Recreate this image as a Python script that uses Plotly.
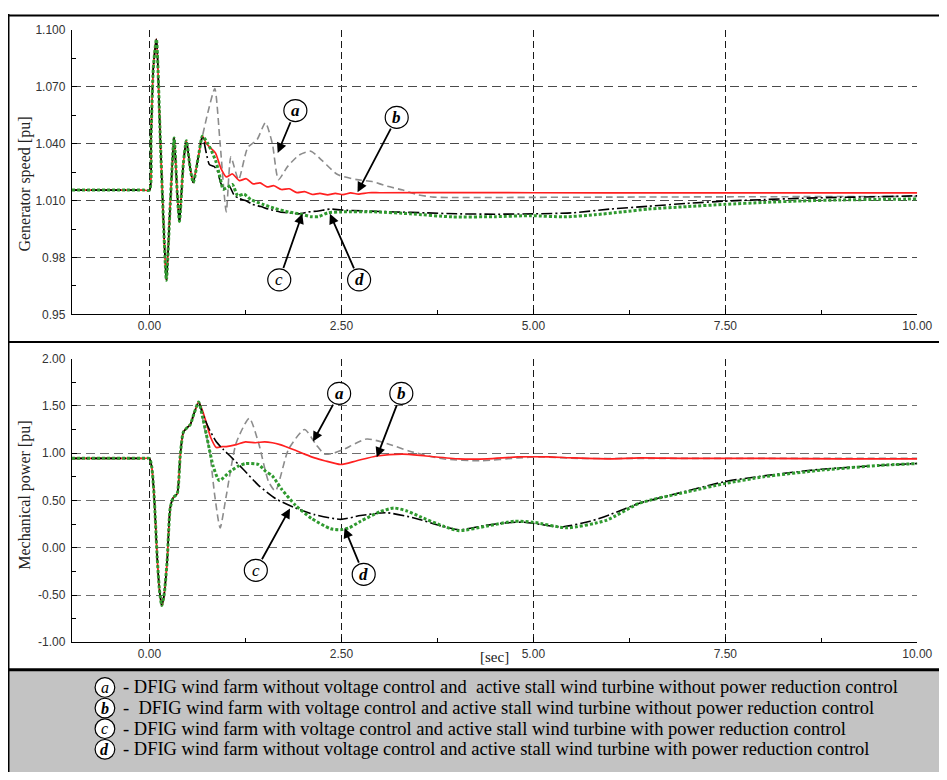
import plotly.graph_objects as go

# ---------------- data ----------------
# Generator speed [pu] — common transient (all four cases coincide)
speed_t_common = [-1.01, -0.3, -0.08, 0.0, 0.02, 0.05, 0.09, 0.14, 0.19, 0.22, 0.27, 0.32, 0.36, 0.39,
                  0.44, 0.48, 0.53, 0.57, 0.64, 0.69]
speed_common = [1.0155, 1.0155, 1.0155, 1.0155, 1.043, 1.080, 1.095, 1.043, 0.991, 0.968, 1.008, 1.043,
                1.015, 0.999, 1.029, 1.0415, 1.027, 1.0195, 1.034, 1.044]

speed_t_a = [0.77, 0.85, 0.92, 1.00, 1.06, 1.16, 1.28, 1.40, 1.51, 1.60, 1.68, 1.80, 1.95, 2.10,
             2.25, 2.45, 2.70, 2.90, 3.10, 3.30, 3.50, 3.70, 4.00, 6.00, 8.00, 10.0]
speed_a = [1.058, 1.069, 1.040, 1.004, 1.033, 1.021, 1.038, 1.042, 1.051, 1.040, 1.021, 1.028, 1.034, 1.036,
           1.031, 1.0237, 1.021, 1.020, 1.0175, 1.0155, 1.013, 1.0118, 1.0116, 1.0118, 1.012, 1.0122]

speed_t_b = [0.74, 0.80, 0.86, 0.93, 1.00, 1.08, 1.17, 1.26, 1.35, 1.44, 1.53, 1.62, 1.72, 1.82, 1.92,
             2.02, 2.12, 2.22, 2.32, 2.42, 2.52, 2.62, 2.72, 2.85, 3.00, 4.00, 6.00, 8.00, 10.0]
speed_b = [1.040, 1.0375, 1.035, 1.027, 1.0225, 1.0240, 1.0205, 1.0215, 1.0188, 1.0193, 1.0172, 1.0178,
           1.0158, 1.0162, 1.0142, 1.0147, 1.0132, 1.0138, 1.0130, 1.0138, 1.0131, 1.0140, 1.0134, 1.0141,
           1.0141, 1.0142, 1.014, 1.014, 1.014]

speed_t_c = [0.74, 0.78, 0.84, 0.88, 0.93, 0.98, 1.04, 1.10, 1.17, 1.25, 1.34, 1.45, 1.55, 1.70, 1.81,
             1.95, 2.07, 2.20, 2.35, 2.50, 2.80, 3.20, 3.60, 4.00, 4.50, 5.00, 5.50, 6.00, 6.50, 7.00,
             7.50, 8.00, 8.50, 9.00, 9.50, 10.0]
speed_c = [1.035, 1.029, 1.028, 1.026, 1.019, 1.016, 1.0175, 1.013, 1.011, 1.010, 1.008, 1.0068, 1.0055,
           1.004, 1.0035, 1.003, 1.004, 1.0045, 1.0055, 1.005, 1.0045, 1.004, 1.0035, 1.003, 1.0028, 1.003,
           1.0035, 1.0055, 1.007, 1.0085, 1.0097, 1.0105, 1.0112, 1.0117, 1.012, 1.0125]

speed_t_d = [0.76, 0.82, 0.87, 0.92, 0.96, 1.02, 1.08, 1.15, 1.23, 1.32, 1.47, 1.62, 1.81, 1.95, 2.11,
             2.20, 2.32, 2.50, 2.96, 3.40, 3.94, 4.50, 4.97, 5.40, 5.80, 6.16, 6.50, 7.00, 7.50, 8.00,
             8.50, 9.00, 9.50, 10.0]
speed_d = [1.040, 1.035, 1.030, 1.022, 1.016, 1.017, 1.0185, 1.0125, 1.0134, 1.0105, 1.0081, 1.006, 1.004,
           1.003, 1.0015, 1.0015, 1.0035, 1.004, 1.004, 1.003, 1.0014, 1.0015, 1.002, 1.0014, 1.0025,
           1.004, 1.0055, 1.0068, 1.008, 1.009, 1.0098, 1.0103, 1.0106, 1.0108]

# Mechanical power [pu] — common transient
power_t_common = [-1.01, -0.3, -0.06, 0.0, 0.03, 0.06, 0.10, 0.13, 0.16, 0.19, 0.23, 0.27, 0.31, 0.36,
                  0.40, 0.44, 0.49, 0.53, 0.58, 0.64]
power_common = [0.945, 0.945, 0.945, 0.945, 0.85, 0.55, -0.10, -0.45, -0.61, -0.50, -0.14, 0.42, 0.53,
                0.57, 0.97, 1.22, 1.27, 1.30, 1.42, 1.54]

power_t_a = [0.72, 0.78, 0.85, 0.92, 1.00, 1.13, 1.30, 1.42, 1.55, 1.64, 1.81, 2.02, 2.17, 2.28, 2.40,
             2.53, 2.83, 3.10, 3.39, 3.82, 4.33, 4.80, 5.10, 5.60, 6.50, 8.00, 10.0]
power_a = [1.25, 1.04, 0.55, 0.21, 0.55, 1.11, 1.37, 1.11, 0.70, 0.60, 1.04, 1.25, 1.09, 0.99, 1.00,
           1.04, 1.15, 1.10, 1.02, 0.94, 0.92, 0.95, 0.96, 0.945, 0.945, 0.945, 0.945]

power_t_b = [0.69, 0.74, 0.80, 0.87, 0.95, 1.00, 1.13, 1.25, 1.38, 1.50, 1.60, 1.70, 1.77, 1.90, 2.02,
             2.15, 2.28, 2.49, 2.70, 2.96, 3.30, 3.60, 4.03, 4.40, 4.80, 5.20, 5.52, 6.00, 6.38, 7.00,
             8.00, 9.00, 10.0]
power_b = [1.45, 1.32, 1.16, 1.06, 1.07, 1.07, 1.09, 1.12, 1.11, 1.12, 1.11, 1.09, 1.07, 1.03, 0.99,
           0.95, 0.92, 0.88, 0.92, 0.97, 0.99, 0.97, 0.94, 0.94, 0.96, 0.96, 0.95, 0.94, 0.95, 0.945,
           0.945, 0.94, 0.94]

power_t_c = [0.70, 0.78, 0.87, 0.96, 1.05, 1.22, 1.42, 1.64, 1.90, 2.15, 2.49, 2.75, 3.09, 3.47, 3.80,
             4.03, 4.33, 4.60, 4.88, 5.35, 5.74, 6.00, 6.38, 7.00, 7.50, 8.00, 8.75, 9.50, 10.0]
power_c = [1.40, 1.25, 1.12, 1.04, 0.97, 0.83, 0.66, 0.52, 0.42, 0.35, 0.30, 0.34, 0.37, 0.31, 0.23,
           0.19, 0.23, 0.26, 0.27, 0.22, 0.28, 0.35, 0.47, 0.60, 0.70, 0.76, 0.83, 0.87, 0.89]

power_t_d = [0.70, 0.74, 0.78, 0.83, 0.91, 1.04, 1.15, 1.25, 1.42, 1.51, 1.60, 1.72, 1.90, 2.11, 2.36,
             2.49, 2.60, 2.75, 3.00, 3.18, 3.35, 3.52, 3.82, 4.03, 4.40, 4.75, 5.00, 5.44, 5.95, 6.38,
             7.00, 7.50, 8.00, 8.75, 9.50, 10.0]
power_d = [1.35, 1.20, 1.04, 0.86, 0.71, 0.80, 0.86, 0.89, 0.88, 0.81, 0.76, 0.62, 0.45, 0.31, 0.20,
           0.19, 0.21, 0.28, 0.38, 0.42, 0.39, 0.33, 0.23, 0.18, 0.23, 0.28, 0.27, 0.21, 0.29, 0.47,
           0.59, 0.68, 0.75, 0.82, 0.87, 0.89]

x_tickvals = [0.0, 2.5, 5.0, 7.5, 10.0]
x_ticktext = ["0.00", "2.50", "5.00", "7.50", "10.00"]
speed_tickvals = [0.95, 0.98, 1.01, 1.04, 1.07, 1.10]
speed_ticktext = ["0.95", "0.98", "1.010", "1.040", "1.070", "1.100"]
power_tickvals = [-1.0, -0.5, 0.0, 0.5, 1.0, 1.5, 2.0]
power_ticktext = ["-1.00", "-0.50", "0.00", "0.50", "1.00", "1.50", "2.00"]

legend_letters = ["a", "b", "c", "d"]
legend_texts = [
    "- DFIG wind farm without voltage control and \u00a0active stall wind turbine without power reduction control",
    "- \u00a0DFIG wind farm with voltage control and active stall wind turbine without power reduction control",
    "- DFIG wind farm with voltage control and active stall wind turbine with power reduction control",
    "- DFIG wind farm without voltage control and active stall wind turbine with power reduction control",
]

# ---------------- geometry helpers (page px -> paper) ----------------
W, H = 939, 764
OX, OY = 8, 8


def px(X):
    return (X - OX) / W


def py(Y):
    return 1 - (Y - OY) / H


SERIF = "Liberation Serif, Times New Roman, serif"
SANS = "Liberation Sans, Arial, sans-serif"

styles = {
    "a": dict(color="#8c8c8c", width=1.6, dash="7px,4px"),
    "b": dict(color="#ff2020", width=1.7, dash="solid"),
    "c": dict(color="#000000", width=1.6, dash="11px,3px,2px,3px"),
    "d": dict(color="#2f9a2f", width=3.0, dash="3px,2px"),
}

fig = go.Figure()

speed_series = {"a": (speed_t_a, speed_a), "b": (speed_t_b, speed_b),
                "c": (speed_t_c, speed_c), "d": (speed_t_d, speed_d)}
power_series = {"a": (power_t_a, power_a), "b": (power_t_b, power_b),
                "c": (power_t_c, power_c), "d": (power_t_d, power_d)}

for key in ["a", "b", "c", "d"]:
    tt, vv = speed_series[key]
    fig.add_trace(go.Scatter(x=speed_t_common + tt, y=speed_common + vv, mode="lines",
                             line=dict(shape="spline", smoothing=0.6, **styles[key]),
                             xaxis="x", yaxis="y", showlegend=False, hoverinfo="skip"))
for key in ["a", "b", "c", "d"]:
    tt, vv = power_series[key]
    fig.add_trace(go.Scatter(x=power_t_common + tt, y=power_common + vv, mode="lines",
                             line=dict(shape="spline", smoothing=0.6, **styles[key]),
                             xaxis="x2", yaxis="y2", showlegend=False, hoverinfo="skip"))

tickfont = dict(family=SANS, size=12, color="#333333")
xcommon = dict(range=[-1.01, 10.0], domain=[px(73), px(932)], tickvals=x_tickvals, ticktext=x_ticktext,
               ticks="inside", ticklen=5, tickcolor="black", tickfont=tickfont, ticklabeloverflow="allow",
               showgrid=True, gridcolor="#1a1a1a", gridwidth=1, griddash="7px,4px",
               showline=True, linecolor="black", linewidth=1.3, mirror=False, zeroline=False,
               minor=dict(ticks="inside", ticklen=4, tickcolor="black", dtick=1.25, tick0=0, showgrid=False))
ycommon = dict(ticks="inside", ticklen=5, tickcolor="black", tickfont=tickfont, ticklabelstandoff=3,
               showgrid=True, gridwidth=1.3, griddash="9px,5px",
               showline=True, linecolor="black", linewidth=1.3, mirror=False, zeroline=False)

fig.update_layout(
    width=W, height=H, autosize=False, margin=dict(l=0, r=0, t=0, b=0),
    paper_bgcolor="white", plot_bgcolor="white",
    xaxis=dict(anchor="y", **xcommon),
    yaxis=dict(anchor="x", range=[0.95, 1.10], domain=[py(313), py(23)], tickvals=speed_tickvals,
               ticktext=speed_ticktext, gridcolor="#4a4a4a",
               minor=dict(ticks="inside", ticklen=4, tickcolor="black", dtick=0.015, tick0=0.95, showgrid=False),
               **ycommon),
    xaxis2=dict(anchor="y2", **xcommon),
    yaxis2=dict(anchor="x2", range=[-1.0, 2.0], domain=[py(647), py(358)], tickvals=power_tickvals,
                ticktext=power_ticktext, gridcolor="#6e6e6e",
                minor=dict(ticks="inside", ticklen=4, tickcolor="black", dtick=0.25, tick0=-1.0, showgrid=False),
                **ycommon),
)

shapes = []
# legend box background
shapes.append(dict(type="rect", xref="paper", yref="paper", x0=px(9), x1=1.01, y0=py(790), y1=py(676),
                   fillcolor="#c3c3c3", line=dict(width=0), layer="below"))
# outer frame and separators
shapes.append(dict(type="line", xref="paper", yref="paper", x0=px(8.5), x1=px(8.5), y0=py(790), y1=py(7),
                   line=dict(color="black", width=2)))
shapes.append(dict(type="line", xref="paper", yref="paper", x0=px(8), x1=1.01, y0=py(8.5), y1=py(8.5),
                   line=dict(color="black", width=2)))
shapes.append(dict(type="line", xref="paper", yref="paper", x0=px(8), x1=1.01, y0=py(341), y1=py(341),
                   line=dict(color="black", width=2)))
shapes.append(dict(type="line", xref="paper", yref="paper", x0=px(8), x1=1.01, y0=py(675), y1=py(675),
                   line=dict(color="black", width=3)))

annotations = []
# y axis titles and x label
annotations.append(dict(xref="paper", yref="paper", x=px(25), y=py(180), text="Generator speed [pu]",
                        xanchor="center", yanchor="middle",
                        textangle=-90, showarrow=False, font=dict(family=SERIF, size=16, color="#222222")))
annotations.append(dict(xref="paper", yref="paper", x=px(25), y=py(497), text="Mechanical power [pu]",
                        xanchor="center", yanchor="middle",
                        textangle=-90, showarrow=False, font=dict(family=SERIF, size=16, color="#222222")))
annotations.append(dict(xref="paper", yref="paper", x=px(502), y=py(662), text="[sec]",
                        xanchor="center", yanchor="middle",
                        showarrow=False, font=dict(family=SERIF, size=15, color="#222222")))

# callout circles with arrows: (letter, xref, yref, circle t, circle v, tip t, tip v)
callouts = [
    ("a", "x", "y", 1.90, 1.0574, 1.67, 1.0351),
    ("b", "x", "y", 3.22, 1.0538, 2.71, 1.0144),
    ("c", "x", "y", 1.69, 0.9682, 1.99, 1.0030),
    ("d", "x", "y", 2.73, 0.9682, 2.35, 1.0030),
    ("a", "x2", "y2", 2.47, 1.632, 2.13, 1.123),
    ("b", "x2", "y2", 3.28, 1.632, 2.96, 0.956),
    ("c", "x2", "y2", 1.385, -0.239, 1.83, 0.416),
    ("d", "x2", "y2", 2.79, -0.281, 2.54, 0.208),
]


def letter_html(letter):
    if letter == "c":
        return "<i>c</i>"
    return "<b><i>%s</i></b>" % letter


for letter, xr, yr, cx, cy, tx, ty in callouts:
    shapes.append(dict(type="circle", xref=xr, yref=yr, xsizemode="pixel", ysizemode="pixel",
                       xanchor=cx, yanchor=cy, x0=-11.5, x1=11.5, y0=-11, y1=11,
                       fillcolor="white", line=dict(color="black", width=1.2)))
    annotations.append(dict(xref=xr, yref=yr, x=cx, y=cy, text=letter_html(letter), showarrow=False,
                            xanchor="center", yanchor="middle",
                            font=dict(family=SERIF, size=17, color="black")))
    annotations.append(dict(xref=xr, yref=yr, x=tx, y=ty, ax=cx, ay=cy, axref=xr, ayref=yr, text="",
                            showarrow=True, arrowhead=2, arrowsize=1.1, arrowwidth=1.8, arrowcolor="black",
                            startstandoff=11, standoff=0))

# legend rows
row_y = [693, 714, 735, 756]
for letter, text, yy in zip(legend_letters, legend_texts, row_y):
    shapes.append(dict(type="circle", xref="paper", yref="paper",
                       x0=px(96.5), x1=px(116.5), y0=py(yy + 10), y1=py(yy - 10),
                       fillcolor="white", line=dict(color="black", width=1.2)))
    lt = "<i>%s</i>" % letter if letter in ("a", "c") else "<b><i>%s</i></b>" % letter
    annotations.append(dict(xref="paper", yref="paper", x=px(106.5), y=py(yy), text=lt, showarrow=False,
                            xanchor="center", yanchor="middle",
                            font=dict(family=SERIF, size=16, color="black")))
    annotations.append(dict(xref="paper", yref="paper", x=px(123), y=py(yy), text=text, showarrow=False,
                            xanchor="left", yanchor="middle",
                            font=dict(family=SERIF, size=18.5, color="black")))

fig.update_layout(shapes=shapes, annotations=annotations)
fig.write_html("out.html")
